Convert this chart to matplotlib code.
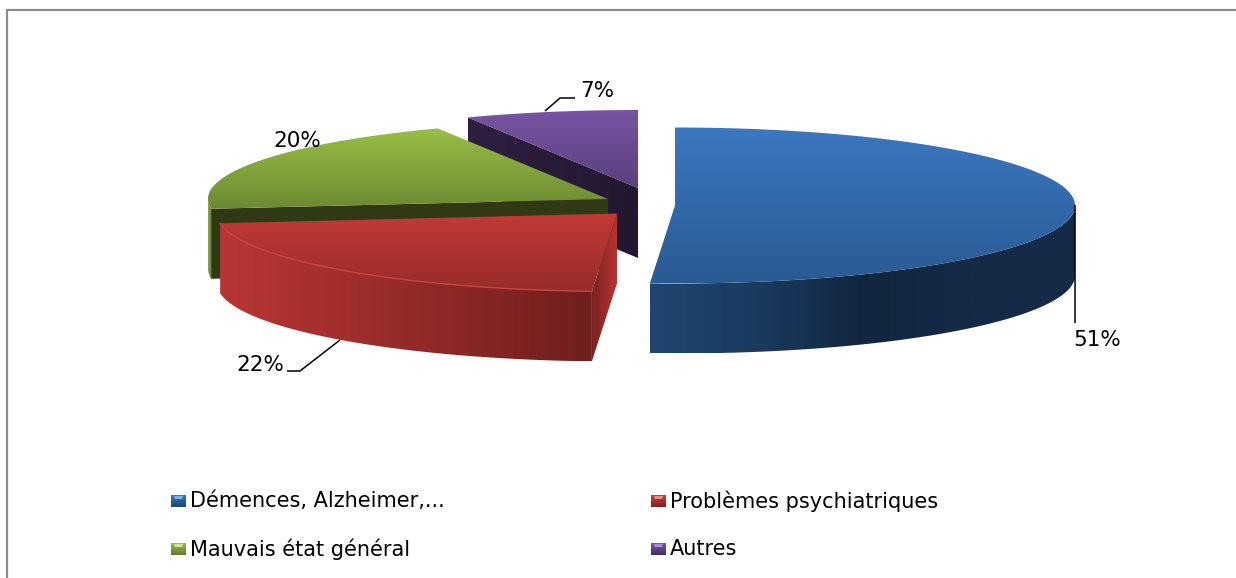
import numpy as np
import matplotlib
matplotlib.use("Agg")
import matplotlib.pyplot as plt
from matplotlib.patches import Polygon
from matplotlib.colors import LinearSegmentedColormap

categories = ["Démences, Alzheimer,...", "Problèmes psychiatriques", "Mauvais état général", "Autres"]
values = [51, 22, 20, 7]

# slice styles and layout (pixel coordinates of the figure)
centres = [(675, 205.5), (617, 213.5), (608, 199), (638, 188)]
RX, RY, DEPTH = 400, 78, 70
top_cols = [("#3b77c0", "#2a5a93"), ("#c23a36", "#972c29"), ("#98bf45", "#6c8a32"), ("#7854a4", "#59407c")]
marker_cols = [("#3f7cc6", "#1f4571"), ("#cf4540", "#7a2220"), ("#9fc64c", "#5f7a2c"), ("#7f5bab", "#3f2d5b")]
highlight = ["#7fb0e6", "#ee8a86", "#cfe58f", "#a98fd0"]
legend_x = [171, 651, 171, 651]
legend_y = [501, 501, 549, 549]
label_pos = [(1097, 340), (260, 365), (297, 141), (597, 91)]
leaders = [[(1075, 205), (1075, 323)], [(340, 340), (300, 371), (287, 371)], None, [(545, 111), (560, 98), (575, 98)]]

fig = plt.figure(figsize=(12.36, 5.78), dpi=100)
ax = fig.add_axes([0, 0, 1, 1])
ax.axis("off")


def grad(poly, cols, vertical=True, z=1):
    """Fill a polygon with a linear gradient through the given colour stops."""
    poly = np.asarray(poly)
    x0, x1 = poly[:, 0].min(), poly[:, 0].max()
    y0, y1 = poly[:, 1].min(), poly[:, 1].max()
    cmap = LinearSegmentedColormap.from_list("g", cols)
    t = np.linspace(0, 1, 256)
    img = cmap(t)[:, None, :3] if vertical else cmap(t)[None, :, :3]
    im = ax.imshow(img, extent=(x0, x1, y1, y0), aspect="auto", zorder=z, interpolation="bilinear")
    p = Polygon(poly, closed=True, transform=ax.transData, fc="none", ec="none")
    ax.add_patch(p)
    im.set_clip_path(p)


def pt(c, th):
    return np.column_stack([c[0] + RX * np.sin(th), c[1] - RY * np.cos(th)])


edges = np.radians(np.cumsum([0] + values) * 3.6)
zorders = [8, 6, 4, 2]
for i, v in enumerate(values):
    c = np.array(centres[i], float)
    a0, a1 = edges[i], edges[i + 1]
    arc = pt(c, np.linspace(a0, a1, 150))
    z = zorders[i]
    drop = np.array([0, DEPTH])
    if i == 0:       # outer wall, from the right extreme to the end of the slice
        a = pt(c, np.linspace(np.pi / 2, a1, 120))
        wall = np.vstack([a, (a + drop)[::-1]])
        grad(wall, ["#20466f", "#1a3a60", "#12263f", "#142a47", "#142a47"], vertical=False, z=z)
    elif i == 1:     # outer wall + cut wall on the right
        wall = np.vstack([arc, (arc + drop)[::-1]])
        grad(wall, ["#b83633", "#952b29", "#6f1f1d"], vertical=False, z=z)
        cut = np.array([c, arc[0], arc[0] + drop, c + drop])
        grad(cut, ["#7a2220", "#ba3633"], vertical=False, z=z + 0.1)
    elif i == 2:     # olive strip at the far left + dark cut wall
        cut = np.array([arc[0], c, c + drop, arc[0] + drop])
        ax.add_patch(Polygon(cut, closed=True, fc="#2f3a14", ec="none", zorder=z))
        a = pt(c, np.linspace(a0, np.radians(270), 20))
        strip = np.vstack([a, (a + drop)[::-1]])
        grad(strip, ["#8fa85a", "#5f7a2c"], vertical=False, z=z - 0.1)
    else:            # dark cut wall
        cut = np.array([arc[0], c, c + drop, arc[0] + drop])
        grad(cut, ["#2f2040", "#23172f"], vertical=False, z=z)
    top = np.vstack([c, arc])
    grad(top, top_cols[i], vertical=True, z=z + 0.5)
    if i == 1:
        ax.plot(arc[:, 0], arc[:, 1], color="#cb4440", lw=1.0, zorder=z + 0.6)

# labels and leader lines
FONT = "DejaVu Sans"
for i, v in enumerate(values):
    ax.text(*label_pos[i], f"{v}%", ha="center", va="center", fontsize=15.5, family=FONT, color="black", zorder=20)
    if leaders[i]:
        xs, ys = zip(*leaders[i])
        ax.plot(xs, ys, color="black", lw=1.1, zorder=19, solid_capstyle="butt")

# legend
for i, name in enumerate(categories):
    x, y = legend_x[i], legend_y[i]
    s = 15
    box = np.array([(x, y - 6.5), (x + s, y - 6.5), (x + s, y + 6.5), (x, y + 6.5)])
    grad(box, marker_cols[i], vertical=True, z=10)
    ax.fill([x + 3, x + s - 3, x + s - 4, x + 4], [y - 5, y - 5, y - 2, y - 2], color=highlight[i], lw=0, zorder=11)
    ax.text(x + 19, y, name, ha="left", va="center", fontsize=15, family=FONT, color="black", zorder=20)

# chart border: only the left and top edges are visible
ax.plot([7, 7, 1236], [578, 9.5, 9.5], color="#8c8c8c", lw=1.6, zorder=30, solid_joinstyle="miter")

ax.set_xlim(0, 1236)
ax.set_ylim(578, 0)
fig.savefig("out.png", dpi=100, facecolor="white")
